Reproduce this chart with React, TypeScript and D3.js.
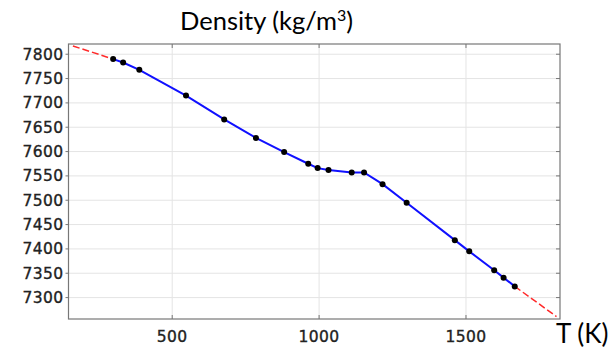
import React from "react";
import * as d3 from "d3";

const temps = [299, 333, 388, 547, 677, 785, 881, 963, 995, 1032, 1111, 1153, 1216, 1298, 1462, 1511, 1596, 1628, 1666];
const density = [7790, 7783, 7768, 7715, 7666, 7628, 7599, 7575, 7566, 7562, 7557, 7557, 7533, 7495, 7418, 7395, 7356, 7341, 7323];
const extrapLowT = [162, 299];
const extrapLowRho = [7817, 7790];
const extrapHighT = [1666, 1808];
const extrapHighRho = [7323, 7261];
const xTicks = [500, 1000, 1500];
const yTicks = [7300, 7350, 7400, 7450, 7500, 7550, 7600, 7650, 7700, 7750, 7800];
const title = "Density (kg/m";
const xLabel = "T (K)";

export default function App() {
  const L = 68.5, R = 560, T = 44, B = 319;
  const x = d3.scaleLinear().domain([147, 1820]).range([L, R]);
  const y = d3.scaleLinear().domain([7256, 7821]).range([B, T]);
  const line = d3.line<[number, number]>().x(d => x(d[0])).y(d => y(d[1]));
  const main = temps.map((t, i) => [t, density[i]] as [number, number]);
  const low = extrapLowT.map((t, i) => [t, extrapLowRho[i]] as [number, number]);
  const high = extrapHighT.map((t, i) => [t, extrapHighRho[i]] as [number, number]);
  const tickFont = { fontFamily: "DejaVu Sans", fontSize: 15.5, fill: "#222", stroke: "#222", strokeWidth: 0.35, letterSpacing: 0.4 };
  return (
    <svg width={611} height={349} style={{ position: "absolute", left: 0, top: 0, background: "#fff" }}>
      {xTicks.map(t => (
        <line key={"gx" + t} x1={x(t)} x2={x(t)} y1={T} y2={B} stroke="#e4e4e4" strokeWidth={1} />
      ))}
      {yTicks.map(t => (
        <line key={"gy" + t} x1={L} x2={R} y1={y(t)} y2={y(t)} stroke="#e4e4e4" strokeWidth={1} />
      ))}
      <rect x={L} y={T} width={R - L} height={B - T} fill="none" stroke="#777" strokeWidth={1.2} />
      {xTicks.map(t => (
        <g key={"tx" + t}>
          <line x1={x(t)} x2={x(t)} y1={B} y2={B - 4} stroke="#777" />
          <line x1={x(t)} x2={x(t)} y1={T} y2={T + 4} stroke="#777" />
          <text x={x(t)} y={341.5} textAnchor="middle" {...tickFont}>{t}</text>
        </g>
      ))}
      {yTicks.map(t => (
        <g key={"ty" + t}>
          <line x1={L - 3} x2={L} y1={y(t)} y2={y(t)} stroke="#777" />
          <line x1={R - 4} x2={R} y1={y(t)} y2={y(t)} stroke="#777" />
          <text x={63.5} y={y(t) + 5.5} textAnchor="end" {...tickFont}>{t}</text>
        </g>
      ))}
      <path d={line(low) || ""} fill="none" stroke="#ff2a2a" strokeWidth={1.5} strokeDasharray="7,3" />
      <path d={line(high) || ""} fill="none" stroke="#ff2a2a" strokeWidth={1.5} strokeDasharray="7,3" />
      <path d={line(main) || ""} fill="none" stroke="#1010ff" strokeWidth={2} />
      {main.map((d, i) => (
        <circle key={i} cx={x(d[0])} cy={y(d[1])} r={3} fill="#000" />
      ))}
      <text x={180} y={30} fontFamily="Lato" fontSize={25.5} fill="#000">
        {title}
        <tspan fontSize={16} dy={-9}>3</tspan>
        <tspan dy={9}>)</tspan>
      </text>
      <text x={556} y={342.5} fontFamily="Lato" fontSize={26} fill="#000">{xLabel}</text>
    </svg>
  );
}
